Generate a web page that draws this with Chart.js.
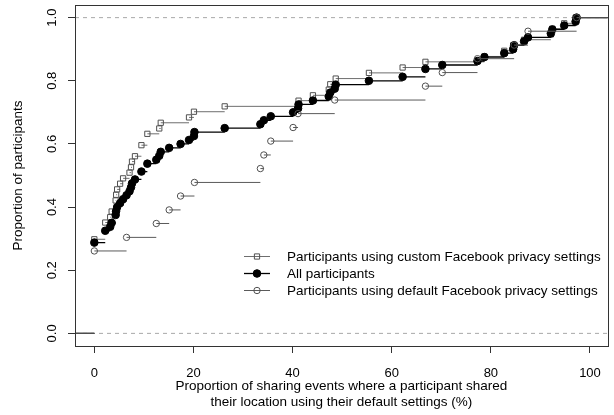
<!DOCTYPE html>
<html>
<head>
<meta charset="utf-8">
<script src="https://cdn.jsdelivr.net/npm/chart.js@4.4.1/dist/chart.umd.min.js"></script>
<style>
  html, body { margin: 0; padding: 0; background: #fff; }
  #wrap { width: 614px; height: 415px; }
</style>
</head>
<body>
<div id="wrap"><canvas id="ecdf"></canvas></div>
<script>
// ECDF knots (x = % of events, y = cumulative proportion)
const customLabel = "Participants using custom Facebook privacy settings";
const customX = [0, 2.2, 3.2, 3.5, 4.3, 4.4, 4.6, 5.2, 5.8, 7.1, 7.4, 7.6, 8.2, 9.5, 10.7, 13.1, 13.4, 19.1, 20.1, 26.3,
  41.2, 44.1, 47.3, 47.6, 48.7, 55.4, 62.2, 66.8, 78.7, 82.7, 84.5, 86.7, 92.1, 92.4, 94.8, 97.1];
const customY = [0.298, 0.351, 0.368, 0.386, 0.421, 0.439, 0.456, 0.474, 0.491, 0.509, 0.526, 0.544, 0.561, 0.596, 0.632, 0.649, 0.667, 0.684, 0.702, 0.719,
  0.737, 0.754, 0.772, 0.789, 0.807, 0.825, 0.842, 0.860, 0.877, 0.895, 0.912, 0.930, 0.947, 0.965, 0.982, 1.0];

const allLabel = "All participants";
const allX = [0, 2.2, 3.2, 3.5, 4.3, 4.4, 4.6, 5.2, 5.8, 6.5, 7.1, 7.4, 7.6, 8.2, 9.5, 10.7, 12.5, 13.1, 13.4, 15.1,
  17.4, 19.1, 20.1, 20.2, 26.3, 33.5, 34.2, 35.6, 40.1, 41.1, 41.2, 44.1, 47.3, 47.6, 48.5, 48.7, 55.4, 62.2, 66.8, 70.2,
  77.3, 78.7, 82.7, 84.5, 84.7, 86.7, 87.5, 92.1, 92.4, 94.8, 97.1, 97.3];
const allY = [0.2875, 0.325, 0.3375, 0.35, 0.375, 0.3875, 0.4, 0.4125, 0.425, 0.4375, 0.45, 0.4625, 0.475, 0.4875, 0.5125, 0.5375, 0.55, 0.5625, 0.575, 0.5875,
  0.6, 0.6125, 0.625, 0.6375, 0.65, 0.6625, 0.675, 0.6875, 0.7, 0.7125, 0.725, 0.7375, 0.75, 0.7625, 0.775, 0.7875, 0.8, 0.8125, 0.8375, 0.85,
  0.8625, 0.875, 0.8875, 0.9, 0.9125, 0.925, 0.9375, 0.95, 0.9625, 0.975, 0.9875, 1.0];

const defaultLabel = "Participants using default Facebook privacy settings";
const defaultX = [0, 6.5, 12.5, 15.1, 17.4, 20.2, 33.5, 34.2, 35.6, 40.1, 41.1, 48.5, 66.8, 70.2, 77.3, 84.7, 87.5, 97.3];
const defaultY = [0.261, 0.304, 0.348, 0.391, 0.435, 0.478, 0.522, 0.565, 0.609, 0.652, 0.696, 0.739, 0.783, 0.826, 0.870, 0.913, 0.957, 1.0];

const refLevels = [0, 1];
const xTicks = [0, 20, 40, 60, 80, 100];
const yTicks = [0, 0.2, 0.4, 0.6, 0.8, 1.0];

const X_MIN = -3.9, X_MAX = 103.6;
const FONT = "'Liberation Sans', Arial, Helvetica, sans-serif";

// horizontal pieces only (R's plot.ecdf without verticals)
function stepPoints(xs, ys) {
  const pts = [{ x: X_MIN, y: 0 }, { x: xs[0], y: 0 }, { x: xs[0], y: null }];
  xs.forEach((x, i) => {
    const next = i + 1 < xs.length ? xs[i + 1] : X_MAX;
    pts.push({ x, y: ys[i] }, { x: next, y: ys[i] }, { x: next, y: null });
  });
  return pts;
}
const knots = (xs, ys) => xs.map((x, i) => ({ x, y: ys[i] }));

const series = [
  { label: customLabel, xs: customX, ys: customY, line: "#6e6e6e", lw: 1, style: "rect", r: 3.7, border: "#505050", fill: "rgba(255,255,255,0)", order: 5 },
  { label: allLabel, xs: allX, ys: allY, line: "#000", lw: 1.3, style: "circle", r: 3.8, border: "#000", fill: "#000", order: 3 },
  { label: defaultLabel, xs: defaultX, ys: defaultY, line: "#5a5a5a", lw: 1, style: "circle", r: 3.2, border: "#505050", fill: "rgba(255,255,255,0)", order: 1 }
];

const datasets = [];
refLevels.forEach(level => {
  datasets.push({
    data: [{ x: X_MIN, y: level }, { x: X_MAX, y: level }],
    showLine: true, borderColor: "#a8a8a8", borderWidth: 1, borderDash: [4, 4],
    pointRadius: 0, order: 10
  });
});
series.forEach(s => {
  datasets.push({
    data: stepPoints(s.xs, s.ys), showLine: true, spanGaps: false,
    borderColor: s.line, borderWidth: s.lw, pointRadius: 0, order: s.order + 1
  });
  datasets.push({
    label: s.label, data: knots(s.xs, s.ys), showLine: false,
    pointStyle: s.style, pointRadius: s.r, pointBorderColor: s.border,
    pointBackgroundColor: s.fill, pointBorderWidth: 1, order: s.order
  });
});

const frame = {
  id: "frame",
  afterDraw(chart) {
    const { ctx, chartArea: a, scales } = chart;
    ctx.save();
    ctx.strokeStyle = "#333";
    ctx.lineWidth = 1;
    ctx.strokeRect(Math.round(a.left) + 0.5, Math.round(a.top) + 0.5, Math.round(a.right - a.left), Math.round(a.bottom - a.top));

    // y tick labels, parallel to the axis like R
    ctx.fillStyle = "#000";
    ctx.font = "13px " + FONT;
    ctx.textAlign = "center";
    ctx.textBaseline = "middle";
    yTicks.forEach(v => {
      const y = scales.y.getPixelForValue(v);
      ctx.save();
      ctx.translate(52, y);
      ctx.rotate(-Math.PI / 2);
      ctx.fillText(v.toFixed(1), 0, 0);
      ctx.restore();
    });

    // legend (no box)
    const rows = [256, 273, 290];
    ctx.font = "13.5px " + FONT;
    ctx.textAlign = "left";
    series.forEach((s, i) => {
      const y = rows[i];
      ctx.strokeStyle = s.line;
      ctx.lineWidth = s.lw;
      ctx.beginPath();
      ctx.moveTo(244, y + 0.5);
      ctx.lineTo(270, y + 0.5);
      ctx.stroke();
      ctx.fillStyle = s.fill;
      ctx.strokeStyle = s.border;
      ctx.lineWidth = 1;
      Chart.helpers.drawPoint(ctx, { pointStyle: s.style, radius: s.r, borderWidth: 1 }, 257, y + 0.5);
      ctx.fillStyle = "#000";
      ctx.fillText(s.label, 287, y + 1);
    });
    ctx.restore();
  }
};

new Chart(document.getElementById("ecdf"), {
  type: "scatter",
  data: { datasets },
  plugins: [frame],
  options: {
    responsive: true,
    maintainAspectRatio: false,
    animation: false,
    devicePixelRatio: 1,
    layout: { padding: { top: 5, right: 5, left: 0, bottom: 0 } },
    plugins: { legend: { display: false }, tooltip: { enabled: false } },
    scales: {
      x: {
        type: "linear", min: X_MIN, max: X_MAX,
        afterBuildTicks: scale => { scale.ticks = xTicks.map(value => ({ value })); },
        afterFit: scale => { scale.height = 69; },
        border: { display: false },
        grid: { drawOnChartArea: false, drawTicks: true, tickLength: 7, color: "#333" },
        ticks: { color: "#000", padding: 13, maxRotation: 0, font: { size: 13, family: FONT } },
        title: {
          display: true,
          text: ["Proportion of sharing events where a participant shared", "their location using their default settings (%)"],
          color: "#000", font: { size: 13.5, family: FONT, lineHeight: "16px" }, padding: { top: 0, bottom: 5 }
        }
      },
      y: {
        type: "linear", min: -0.04, max: 1.04,
        afterBuildTicks: scale => { scale.ticks = yTicks.map(value => ({ value })); },
        afterFit: scale => { scale.width = 75; },
        border: { display: false },
        grid: { drawOnChartArea: false, drawTicks: true, tickLength: 7, color: "#333" },
        ticks: { display: false },
        title: {
          display: true, text: "Proportion of participants",
          color: "#000", font: { size: 13.5, family: FONT, lineHeight: "16px" }, padding: { top: 10, bottom: 0 }
        }
      }
    }
  }
});
</script>
</body>
</html>
